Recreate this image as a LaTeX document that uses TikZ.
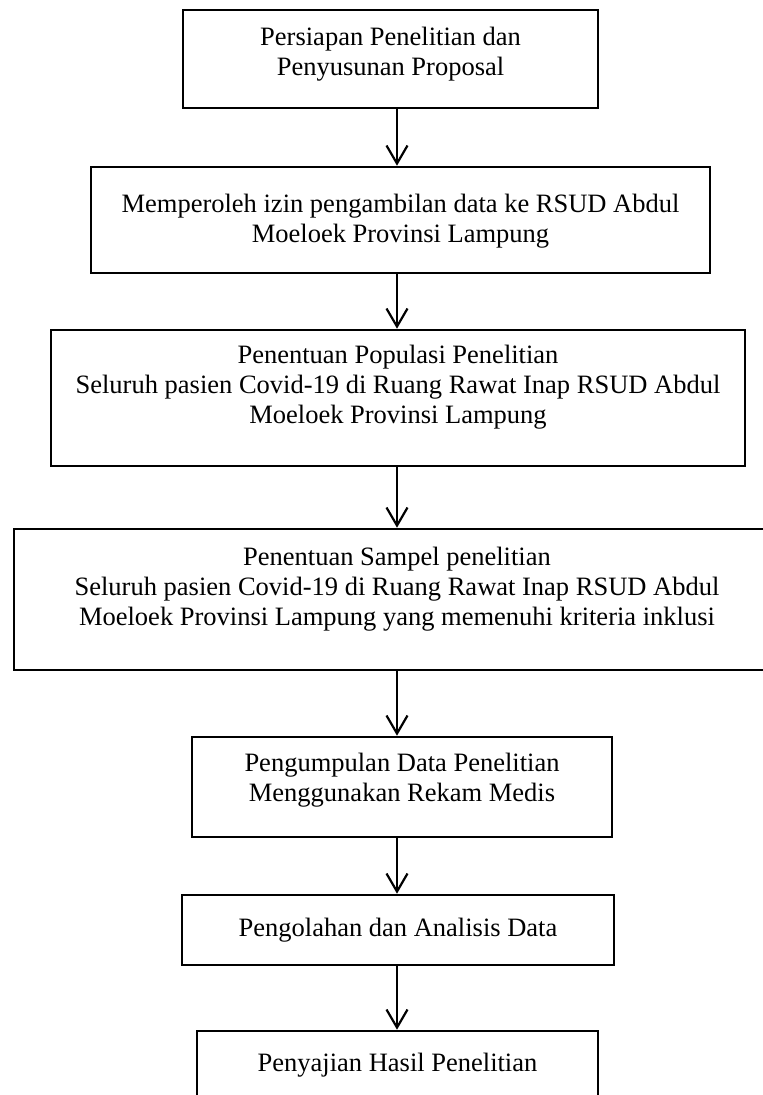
\documentclass[tikz,border=0pt]{standalone}
\usepackage{fontspec}
\setmainfont{Liberation Serif}
\usetikzlibrary{arrows.meta}
\tikzset{
  boxnode/.style={draw=black, line width=2.6pt, rectangle, inner sep=0pt},
  txt/.style={align=center, inner sep=0pt, font=\fontsize{26.5}{30}\selectfont},
  arr/.style={line width=2.2pt, -{Straight Barb[length=18pt,width=21pt]}}
}
\begin{document}
\begin{tikzpicture}[x=1pt,y=-1pt]
\clip (0,0) rectangle (763,1095);
\fill[white] (0,0) rectangle (763,1095);
\coordinate (ax) at (397,0);
% boxes
\node[boxnode, minimum width=415pt, minimum height=98pt] (b1) at (390.5,59) {};
\node[boxnode, minimum width=619pt, minimum height=106pt] (b2) at (400.5,220) {};
\node[boxnode, minimum width=694pt, minimum height=136pt] (b3) at (398,398) {};
\node[boxnode, minimum width=766pt, minimum height=141pt] (b4) at (397,599.5) {};
\node[boxnode, minimum width=420pt, minimum height=100pt] (b5) at (402,787) {};
\node[boxnode, minimum width=432pt, minimum height=70pt] (b6) at (398,930) {};
\node[boxnode, minimum width=401pt, minimum height=80pt] (b7) at (397.5,1071) {};
% texts
\node[txt] (t1) at (390.5,54) {Persiapan Penelitian dan\\Penyusunan Proposal};
\node[txt] (t2) at (400.5,221) {Memperoleh izin pengambilan data ke RSUD Abdul\\Moeloek Provinsi Lampung};
\node[txt] (t3) at (398,387) {Penentuan Populasi Penelitian\\Seluruh pasien Covid-19 di Ruang Rawat Inap RSUD Abdul\\Moeloek Provinsi Lampung};
\node[txt] (t4) at (397,589) {Penentuan Sampel penelitian\\Seluruh pasien Covid-19 di Ruang Rawat Inap RSUD Abdul\\Moeloek Provinsi Lampung yang memenuhi kriteria inklusi};
\node[txt] (t5) at (402,780) {Pengumpulan Data Penelitian\\Menggunakan Rekam Medis};
\node[txt] (t6) at (398,930) {Pengolahan dan Analisis Data};
\node[txt] (t7) at (397.5,1065) {Penyajian Hasil Penelitian};
% arrows
\draw[arr] (b1.south -| ax) -- (b2.north -| ax);
\draw[arr] (b2.south -| ax) -- (b3.north -| ax);
\draw[arr] (b3.south -| ax) -- (b4.north -| ax);
\draw[arr] (b4.south -| ax) -- (b5.north -| ax);
\draw[arr] (b5.south -| ax) -- (b6.north -| ax);
\draw[arr] (b6.south -| ax) -- (b7.north -| ax);
\end{tikzpicture}
\end{document}
